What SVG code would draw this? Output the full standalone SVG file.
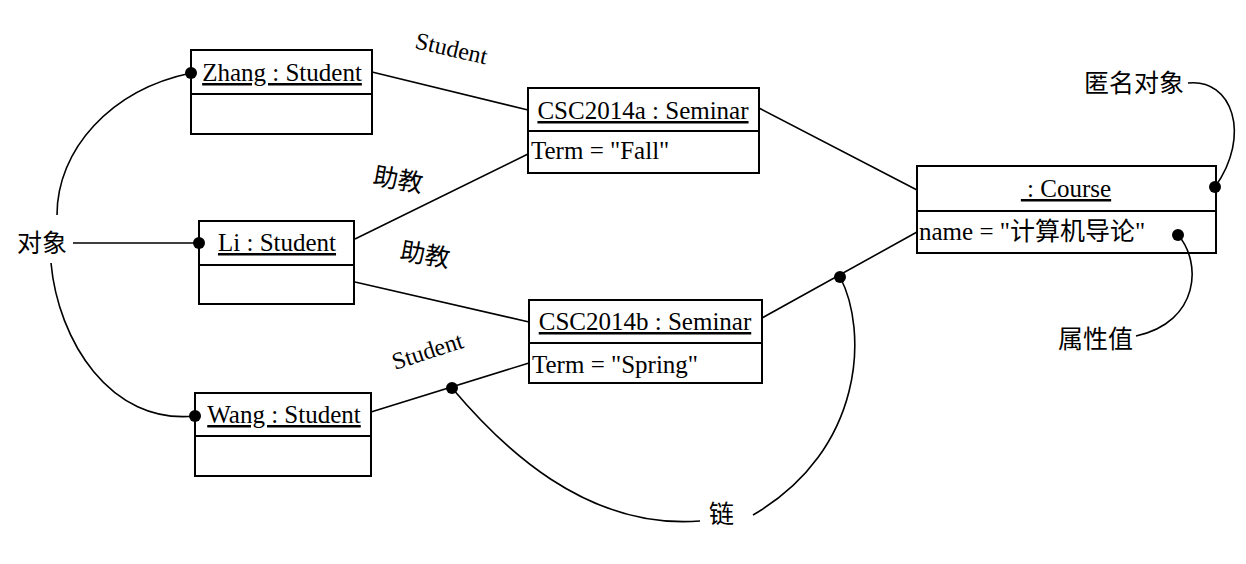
<svg xmlns="http://www.w3.org/2000/svg" width="1246" height="564" viewBox="0 0 1246 564">
<style>
.box{fill:#fff;stroke:#000;stroke-width:2}
.ln{fill:none;stroke:#000;stroke-width:1.6}
.t{font-family:"Liberation Serif","Noto Sans CJK SC",serif;font-size:25px;fill:#000}
.h{text-anchor:middle;text-decoration:underline}
.cn{font-family:"Noto Sans CJK SC","Noto Sans CJK TC",sans-serif;font-size:25px;fill:#000}
.lbl{font-family:"Liberation Serif",serif;font-size:24px;fill:#000}
.dot{fill:#000}
</style>
<rect width="1246" height="564" fill="#fff"/>
<g id="zhang">
<rect class="box" x="191" y="50" width="181" height="84"/>
<line class="box" x1="191" y1="94" x2="372" y2="94"/>
<text class="t h" x="282" y="81">Zhang : Student</text>
</g>
<g id="li">
<rect class="box" x="199" y="221" width="155" height="83"/>
<line class="box" x1="199" y1="265" x2="354" y2="265"/>
<text class="t h" x="277" y="251">Li : Student</text>
</g>
<g id="wang">
<rect class="box" x="195" y="393" width="176" height="83"/>
<line class="box" x1="195" y1="436" x2="371" y2="436"/>
<text class="t h" x="284" y="423">Wang : Student</text>
</g>
<g id="csc2014a">
<rect class="box" x="528" y="88" width="231" height="85"/>
<line class="box" x1="528" y1="131" x2="759" y2="131"/>
<text class="t h" x="643" y="119">CSC2014a : Seminar</text>
<text class="t" x="531" y="159">Term = "Fall"</text>
</g>
<g id="csc2014b">
<rect class="box" x="529" y="300" width="233" height="83"/>
<line class="box" x1="529" y1="343" x2="762" y2="343"/>
<text class="t h" x="645" y="330">CSC2014b : Seminar</text>
<text class="t" x="532" y="373">Term = "Spring"</text>
</g>
<g id="course">
<rect class="box" x="917" y="166" width="299" height="87"/>
<line class="box" x1="917" y1="211" x2="1216" y2="211"/>
<text class="t h" x="1066" y="197" xml:space="preserve"> : Course</text>
<text class="t" x="919" y="240">name = "计算机导论"</text>
</g>
<g id="connectors">
<line class="ln" x1="372" y1="72" x2="528" y2="110"/>
<line class="ln" x1="355" y1="239" x2="528" y2="154"/>
<line class="ln" x1="355" y1="282" x2="529" y2="322"/>
<line class="ln" x1="371" y1="412" x2="529" y2="363"/>
<line class="ln" x1="759" y1="108" x2="917" y2="190"/>
<line class="ln" x1="762" y1="318" x2="917" y2="232"/>
<path class="ln" d="M57,215 C57,150 110,90 191,73"/>
<line class="ln" x1="73" y1="243" x2="199" y2="243"/>
<path class="ln" d="M51,263 C58,340 110,425 195,416"/>
<path class="ln" d="M452,388 C500,445 585,530 700,521"/>
<path class="ln" d="M840,277 C868,330 865,450 753,515"/>
<path class="ln" d="M1188,83 C1232,78 1252,135 1215,187"/>
<path class="ln" d="M1178,235 C1202,262 1200,322 1136,336"/>
<text class="lbl" transform="translate(414,48) rotate(13)">Student</text>
<text class="cn" transform="translate(372,184) rotate(10)">助教</text>
<text class="cn" transform="translate(399,259) rotate(10)">助教</text>
<text class="lbl" transform="translate(395,370) rotate(-18)">Student</text>
<circle class="dot" cx="191" cy="73" r="6"/>
<circle class="dot" cx="199" cy="243" r="6"/>
<circle class="dot" cx="195" cy="416" r="6"/>
<circle class="dot" cx="452" cy="388" r="6"/>
<circle class="dot" cx="840" cy="277" r="6"/>
<circle class="dot" cx="1215" cy="187" r="6"/>
<circle class="dot" cx="1178" cy="235" r="6"/>
</g>
<g id="labels">
<text class="cn" x="17" y="252">对象</text>
<text class="cn" x="1084" y="92">匿名对象</text>
<text class="cn" x="1058" y="348">属性值</text>
<text class="cn" x="709" y="523">链</text>
</g>
</svg>
